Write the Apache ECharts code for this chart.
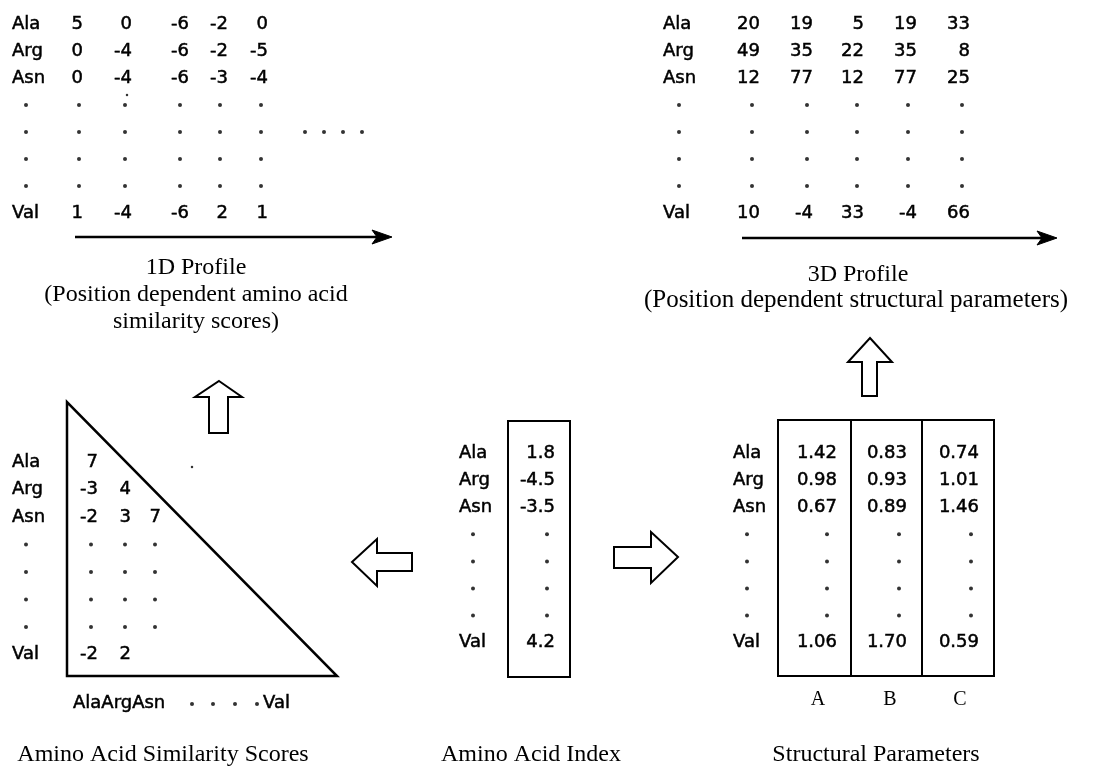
<!DOCTYPE html>
<html>
<head>
<meta charset="utf-8">
<title>Profiles</title>
<script src="https://cdn.jsdelivr.net/npm/echarts@6/dist/echarts.min.js"></script>
<style>
  html, body { margin: 0; padding: 0; background: #fff; }
  #chart { width: 1103px; height: 773px; }
</style>
</head>
<body>
<div id="chart"></div>
<script>
// ---- data ----
const residues = ['Ala', 'Arg', 'Asn', 'Val'];
const profile1D = [[5, 0, -6, -2, 0], [0, -4, -6, -2, -5], [0, -4, -6, -3, -4], [1, -4, -6, 2, 1]];
const profile3D = [[20, 19, 5, 19, 33], [49, 35, 22, 35, 8], [12, 77, 12, 77, 25], [10, -4, 33, -4, 66]];
const similarity = [[7], [-3, 4], [-2, 3, 7], [-2, 2]];
const aaIndex = [1.8, -4.5, -3.5, 4.2];
const paramNames = ['A', 'B', 'C'];
const paramA = [1.42, 0.98, 0.67, 1.06];
const paramB = [0.83, 0.93, 0.89, 1.70];
const paramC = [0.74, 1.01, 1.46, 0.59];
const title1D = ['1D Profile', '(Position dependent amino acid', 'similarity scores)'];
const title3D = ['3D Profile', '(Position dependent structural parameters)'];
const bottomTitles = ['Amino Acid Similarity Scores', 'Amino Acid Index', 'Structural Parameters'];

// ---- layout ----
const sans = '18px "DejaVu Sans"';
const serif = '24px "Liberation Serif"';
const texts = [];
const dots = [];
const shapes = [];

// rows 0..2 are Ala/Arg/Asn, 3..6 are the dotted rows, 7 is Val
function addTable(t, values) {
    const rowIdx = [0, 1, 2, 7];
    residues.forEach((name, r) => {
        const y = t.y0 + rowIdx[r] * t.step;
        texts.push({x: t.labelX, y: y, t: name, align: 'left', font: sans, bold: true});
        values[r].forEach((v, c) => {
            texts.push({x: t.valueX[c], y: y, t: v, align: 'right', font: sans, bold: true});
        });
    });
    for (let k = 3; k <= 6; k++) {
        const y = t.y0 + k * t.step;
        [t.labelDotX].concat(t.dotX).forEach(x => dots.push([x, y]));
    }
}

const str = arr => arr.map(row => row.map(v => String(v)));

addTable({labelX: 12, labelDotX: 26, y0: 24, step: 27,
    valueX: [83, 132, 189, 228, 268], dotX: [79, 125, 180, 220, 261]}, str(profile1D));
addTable({labelX: 663, labelDotX: 679, y0: 24, step: 27,
    valueX: [760, 813, 864, 917, 970], dotX: [752, 807, 857, 908, 962]}, str(profile3D));
addTable({labelX: 12, labelDotX: 26, y0: 462, step: 27.5,
    valueX: [98, 131, 161], dotX: [91, 125, 155]}, str(similarity));
addTable({labelX: 459, labelDotX: 473, y0: 453, step: 27.1,
    valueX: [555], dotX: [547]}, aaIndex.map(v => [v.toFixed(1)]));
addTable({labelX: 733, labelDotX: 747, y0: 453, step: 27.1,
    valueX: [837, 907, 979], dotX: [827, 899, 971]},
    residues.map((_, i) => [paramA[i], paramB[i], paramC[i]].map(v => v.toFixed(2))));

// trailing dots of the 1D profile
[305, 324, 343, 362].forEach(x => dots.push([x, 132]));

// position arrows under the profiles
function addLineArrow(x0, x1, y) {
    shapes.push({pts: [[x0, y], [x1 - 10, y]], w: 2.5});
    shapes.push({pts: [[x1, y], [x1 - 20, y - 7], [x1 - 15, y], [x1 - 20, y + 7]], closed: true, fill: true, w: 1});
}
addLineArrow(75, 392, 237);
addLineArrow(742, 1057, 238);

title1D.forEach((t, i) => texts.push({x: 196, y: 268 + i * 27, t: t, align: 'center', font: serif}));
texts.push({x: 858, y: 275, t: title3D[0], align: 'center', font: serif});
texts.push({x: 856, y: 300, t: title3D[1], align: 'center', font: '25px "Liberation Serif"'});

// hollow block arrows
shapes.push({pts: [[219, 381], [242, 397], [228, 397], [228, 433], [209, 433], [209, 397], [195, 397]], closed: true, w: 2});
shapes.push({pts: [[870, 338], [892, 362], [877, 362], [877, 396], [862, 396], [862, 362], [848, 362]], closed: true, w: 2});
shapes.push({pts: [[352, 562], [377, 539], [377, 553], [412, 553], [412, 571], [377, 571], [377, 586]], closed: true, w: 2});
shapes.push({pts: [[678, 557], [651, 532], [651, 547], [614, 547], [614, 568], [651, 568], [651, 583]], closed: true, w: 2});

// similarity triangle and its column labels
shapes.push({pts: [[67, 402], [67, 676], [337, 676]], closed: true, w: 2.5});
texts.push({x: 73, y: 703, t: residues.slice(0, 3).join(''), align: 'left', font: sans, bold: true});
[192, 213, 235, 257].forEach(x => dots.push([x, 704]));
texts.push({x: 263, y: 703, t: residues[3], align: 'left', font: sans, bold: true});

// index box
shapes.push({pts: [[508, 421], [570, 421], [570, 677], [508, 677]], closed: true, w: 2});

// structural parameter boxes
shapes.push({pts: [[778, 420], [994, 420], [994, 676], [778, 676]], closed: true, w: 2});
shapes.push({pts: [[851, 420], [851, 676]], w: 2});
shapes.push({pts: [[922, 420], [922, 676]], w: 2});
paramNames.forEach((n, i) => texts.push({x: [818, 890, 960][i], y: 700, t: n, align: 'center', font: '20px "Liberation Serif"'}));

bottomTitles.forEach((t, i) => texts.push({x: [163, 531, 876][i], y: 755, t: t, align: 'center', font: serif}));

// ---- chart ----
const chart = echarts.init(document.getElementById('chart'));

chart.setOption({
    animation: false,
    backgroundColor: '#fff',
    grid: {left: 0, top: 0, right: 0, bottom: 0},
    xAxis: {type: 'value', min: 0, max: 1103, show: false},
    yAxis: {type: 'value', min: 0, max: 773, inverse: true, show: false},
    series: [
        {
            type: 'custom',
            silent: true,
            data: shapes.map(s => s.pts[0]),
            renderItem: (params, api) => {
                const s = shapes[params.dataIndex];
                const pts = s.pts.map(p => api.coord(p));
                return {
                    type: s.closed ? 'polygon' : 'polyline',
                    shape: {points: pts},
                    style: {
                        fill: s.fill ? '#000' : 'none',
                        stroke: '#000',
                        lineWidth: s.w,
                        lineJoin: 'miter'
                    }
                };
            }
        },
        {
            type: 'scatter',
            silent: true,
            symbol: 'circle',
            symbolSize: 4,
            itemStyle: {color: '#000'},
            data: dots
        },
        {
            // stray specks on the scan
            type: 'scatter',
            silent: true,
            symbol: 'circle',
            symbolSize: 2.5,
            itemStyle: {color: '#000'},
            data: [[127, 95], [192, 467]]
        },
        {
            type: 'custom',
            silent: true,
            data: texts.map(d => [d.x, d.y]),
            renderItem: (params, api) => {
                const d = texts[params.dataIndex];
                const p = api.coord([d.x, d.y]);
                return {
                    type: 'text',
                    x: p[0],
                    y: p[1],
                    style: {
                        text: d.t,
                        font: d.font,
                        fill: '#000',
                        stroke: d.bold ? '#000' : null,
                        lineWidth: d.bold ? 0.5 : 0,
                        align: d.align,
                        verticalAlign: 'middle'
                    }
                };
            }
        }
    ]
});
</script>
</body>
</html>
